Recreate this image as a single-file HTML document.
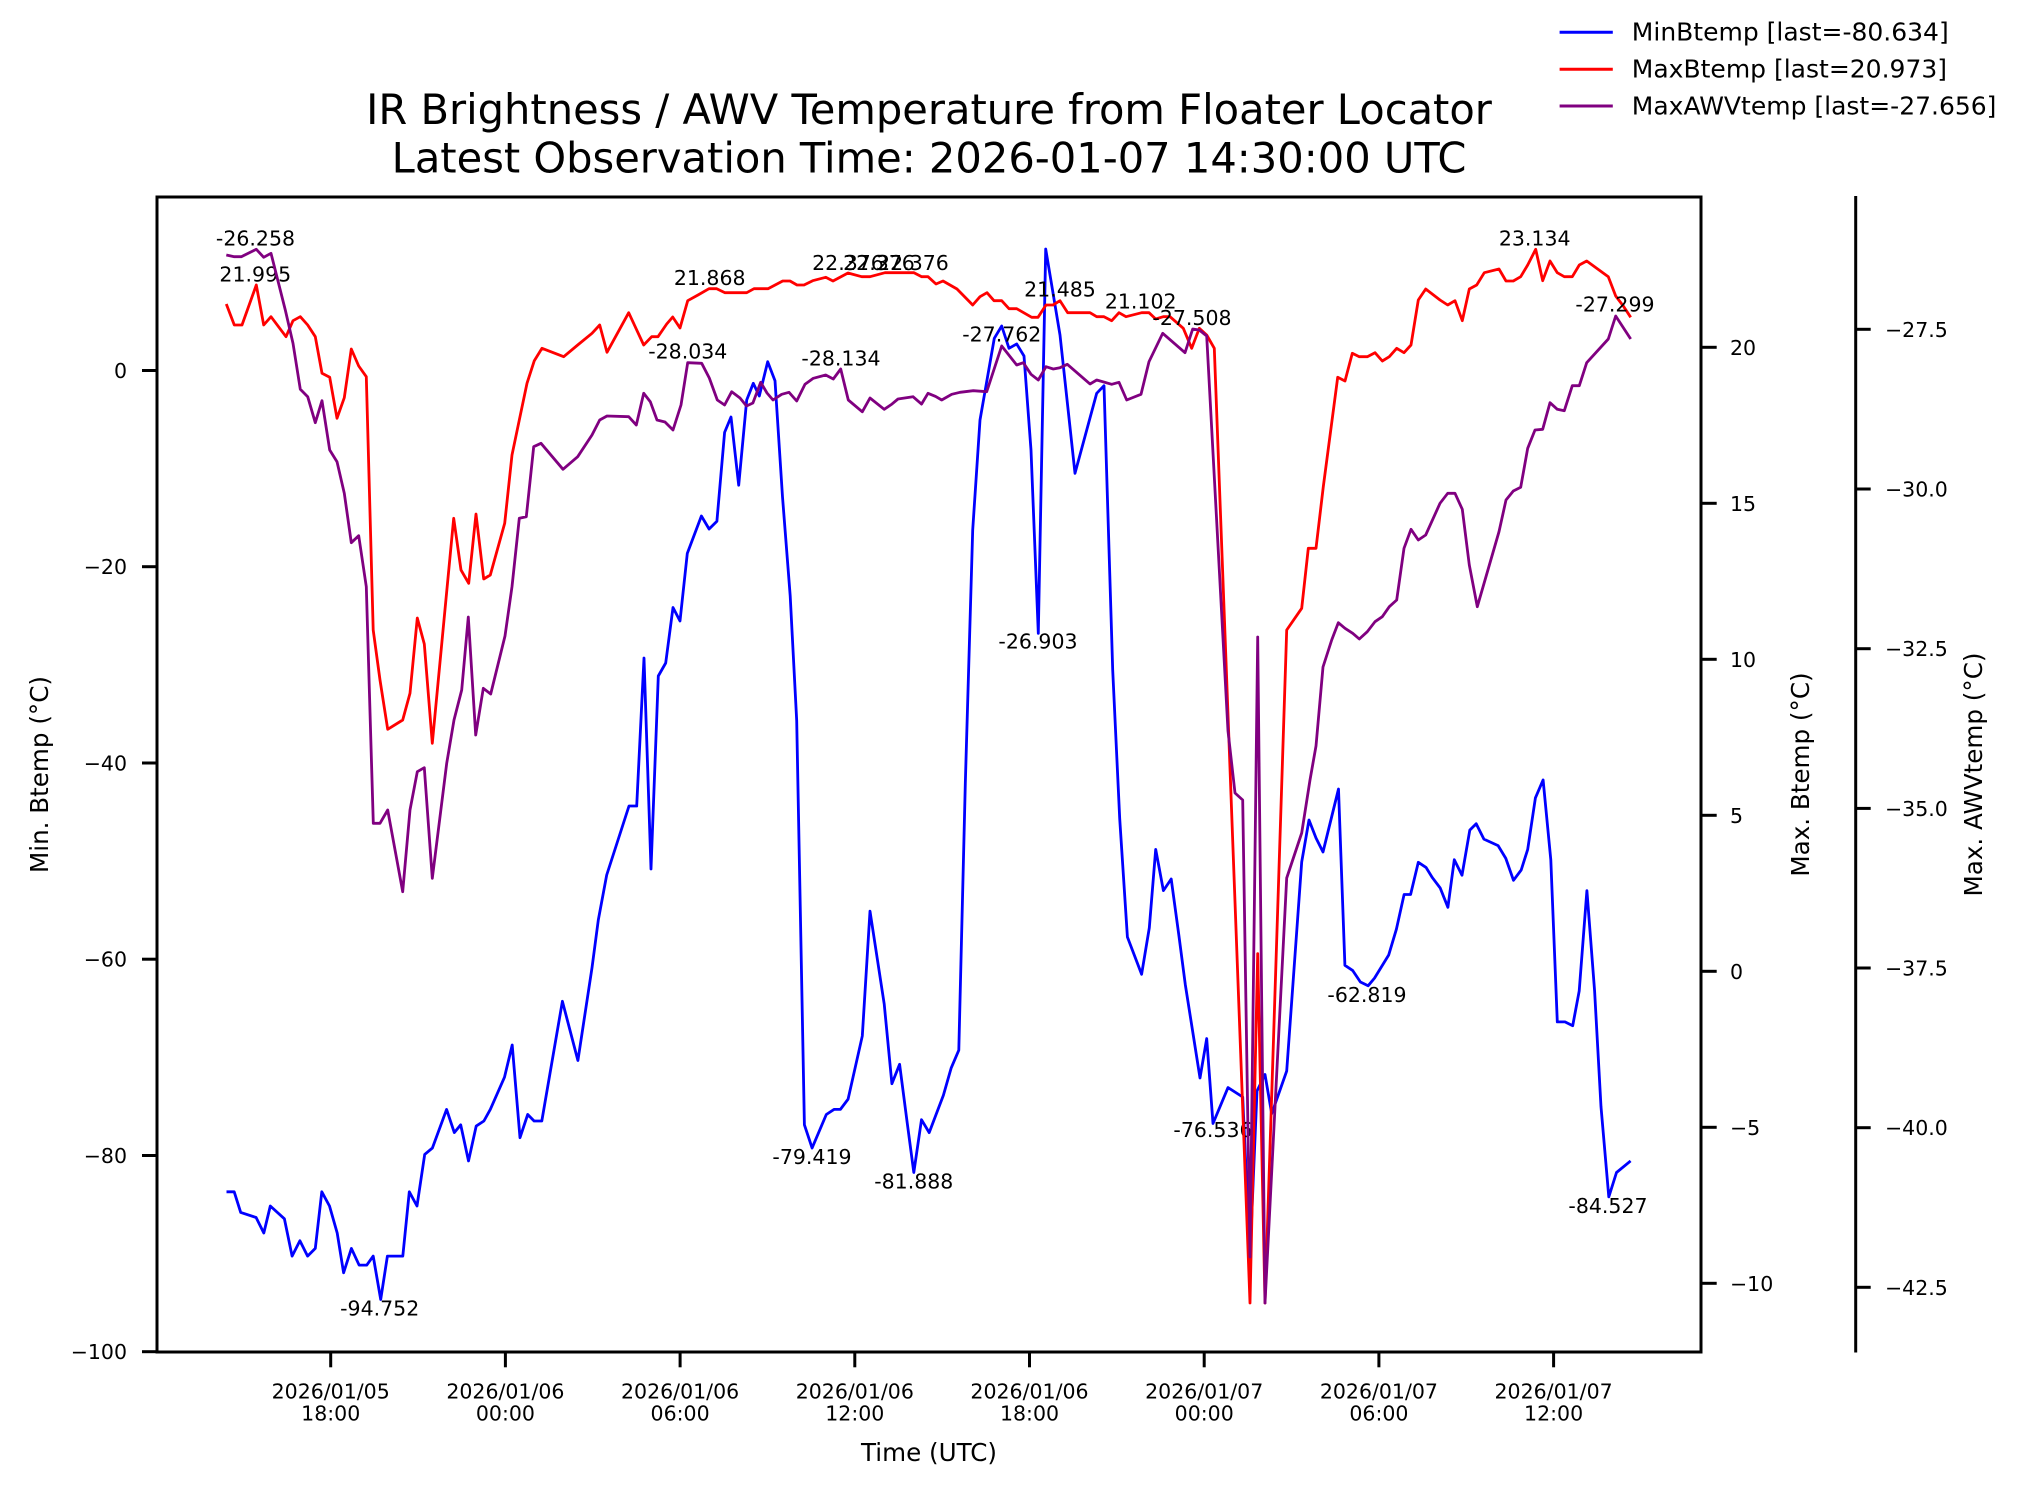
<!DOCTYPE html>
<html><head><meta charset="utf-8"><style>
html,body{margin:0;padding:0;background:#fff;}
svg{display:block;}
text{font-family:"DejaVu Sans","Liberation Sans",sans-serif;fill:#000;}
.t{font-size:20.5px;}
.a{font-size:20.5px;}
.l{font-size:24.6px;}
.g{font-size:25px;}
</style></head><body>
<svg width="2018" height="1495" viewBox="0 0 2018 1495" xmlns="http://www.w3.org/2000/svg">
<rect width="2018" height="1495" fill="#fff"/>
<!-- Title -->
<text x="929" y="124" text-anchor="middle" style="font-size:41.6px">IR Brightness / AWV Temperature from Floater Locator</text>
<text x="929" y="172.3" text-anchor="middle" style="font-size:41.6px">Latest Observation Time: 2026-01-07 14:30:00 UTC</text>

<!-- Data -->
<polyline fill="none" stroke="#0000ff" stroke-width="2.8" stroke-linejoin="round" points="226.5,1191.8 234.2,1191.8 240.7,1212.4 256.1,1217.5 263.8,1233 270.3,1206 284.4,1218.8 292.1,1256.1 299.9,1240.7 307.6,1256.1 315.3,1248.4 321.8,1191.8 329.5,1206 337.2,1233 343.6,1272.8 351.4,1248.4 359.1,1265.1 366.8,1265.1 373.2,1256.1 380.7,1299.5 387.4,1256.1 402.8,1256.1 409.3,1191.8 417,1206 424.7,1154.4 432.4,1148 446.6,1109.4 454.3,1132.6 460.7,1124.8 468.5,1160.9 476.2,1126.1 483.9,1121 490.3,1109.4 504.5,1077.2 512.2,1045 520,1137.7 527.7,1114.5 534.1,1121 541.8,1121 562.4,1001.3 577.9,1060.5 592,967.8 598.3,920 606.7,875 629,806 636.7,806 644,658 651,869 658.3,676 665.7,663 673,607.5 680,621 687.3,553.4 701.4,516 709.1,529 716.9,521.2 724.6,432.4 731,417 738.7,485.2 746.7,400 753.3,383.3 759.3,396 767.7,361.7 775,380.7 782.5,496.8 790.2,595.9 796.7,720.7 804.4,1124.8 812.1,1148 826.3,1114.5 834,1109.4 840.4,1109.4 848.1,1099.1 862.3,1036 870,911.2 884.2,1003.9 891.9,1083.7 899.6,1064.3 907.3,1123.5 913.8,1172.5 921.5,1119.7 929.2,1132.6 935.6,1115.8 943.4,1095.2 951.1,1068.2 958.8,1050.2 965.3,783.8 972.7,530 980,420 994.3,338.3 1001.7,326 1009,348.3 1016.7,344 1024,356 1031,450 1038.3,633.3 1045.7,249 1060,335 1075,473.3 1096.7,393.3 1104,385.7 1112.7,670 1119.7,818.5 1127.4,937 1141.6,974.3 1149.3,927.9 1155.7,849.4 1163.4,890.6 1171.2,879 1178.9,935.6 1185.3,984.6 1193,1033.5 1200,1078 1206.7,1038.6 1213,1123.5 1228,1087.6 1242.7,1097 1250,1257 1257,1091 1265,1074.5 1271.7,1113.7 1286.7,1071 1301.7,862 1309,820 1316,838 1323,852 1338.5,789 1344.9,965.3 1352.6,970.4 1360.4,982 1368.1,985.8 1374.5,978.1 1388.7,955 1396.4,929.2 1404.1,894.5 1410.6,894.5 1418.3,862.3 1426,867.4 1432.4,877.7 1440.2,888 1447.9,907.3 1454.3,859.7 1462,875.2 1469.8,830.1 1476.2,823.7 1483.9,839.1 1498.1,845.6 1505.8,858.4 1513.5,880.3 1521.2,870 1527.7,849.4 1535.4,797.9 1543.1,779.9 1550.8,859.7 1557.3,1021.9 1565,1021.9 1572.7,1025.7 1579.2,991 1586.9,890.6 1594.6,991 1601,1106.8 1608.8,1196.9 1616.5,1172.5 1630.6,1160.9"/>
<g class="a" text-anchor="middle">
<text x="379.7" y="1315.7">-94.752</text>
<text x="812" y="1164">-79.419</text>
<text x="913.8" y="1188.5">-81.888</text>
<text x="1038" y="648.3">-26.903</text>
<text x="1213" y="1137">-76.536</text>
<text x="1367" y="1002">-62.819</text>
<text x="1608" y="1213">-84.527</text>
</g>

<polyline fill="none" stroke="#ff0000" stroke-width="2.8" stroke-linejoin="round" points="226.3,304 234.3,325 242,325 256.3,285 263.7,325 271,316.7 286,336.7 293,320.7 300.3,316.7 307.7,325 315.3,336.7 322,373.3 329.7,377.3 337,418.3 344.3,397.7 351.3,349 358.7,366 366.3,376.7 373.2,630 380,680 387.7,729.3 402.7,720 410,693.3 417.3,618 424.3,644 432.3,743.3 444,620 453.7,518.3 461,570 468.7,583.3 476,514 483.7,579 490.3,575 504.7,523.3 512,455 519.3,420 527,383.3 534.3,360.7 542,348.3 563.7,356.7 577.7,345 592,333.3 599.7,325 607,352.3 628.7,312.7 643.7,345 651.7,336.7 658,336.7 666.7,324 672.7,317 680,328 687.7,300.7 698,295 709,288.7 716.7,288.7 725,292.7 746.7,292.7 754,288.7 768,288.7 782.7,281 790,281 797,285 804,285 812.7,280.7 825.7,277.3 833,281 848,273 861.7,276.7 870,276.7 885,272.7 914,272.7 921.7,276.7 928,276.7 936,284 943,281 957,289 972.7,305 980,296.7 987,292.7 994,300.7 1001.7,300.7 1009,308.7 1016.7,308.7 1031.7,317.3 1038,317.3 1046,305 1053,305 1060,300.7 1067.7,312.7 1090,312.7 1096.7,316.7 1104,316.7 1111.7,320.7 1119,312.7 1126,316.7 1141.7,312.7 1149,312.7 1155.7,319 1163.3,316.7 1170,316.7 1183.3,328.3 1191.7,348.3 1199.3,328.3 1206.7,335 1214.3,348.3 1250,1303 1257.7,953.6 1265,1303 1286.7,630 1301.7,608.3 1308.3,548.3 1316,548.3 1323.3,486.7 1337.7,377.3 1345,381 1352.3,353.3 1359.3,356.7 1367.3,356.7 1375,352.7 1382.3,361 1389.3,356.7 1396.7,348.3 1404,352.7 1411,345 1418.3,300 1425.7,289 1440,300 1447.7,305 1455,300.7 1462.3,320.7 1469.3,289 1476.7,285 1484.3,272.7 1499,269 1506,281 1513.3,281 1520.7,276.7 1527.7,265 1535.7,249.3 1542.7,280.7 1550,261 1557.3,272.7 1564.3,276.7 1572.3,276.7 1579.3,265 1586.7,261 1608.3,276.7 1615.7,296 1623.3,306 1630.7,317.3"/>
<g class="a" text-anchor="middle">
<text x="255.3" y="281.7">21.995</text>
<text x="709.7" y="285">21.868</text>
<text x="848" y="270">22.376</text>
<text x="879" y="270">22.376</text>
<text x="913" y="270">22.376</text>
<text x="1060" y="296.5">21.485</text>
<text x="1140.7" y="308.3">21.102</text>
<text x="1534.7" y="245.7">23.134</text>
</g>

<polyline fill="none" stroke="#800080" stroke-width="2.8" stroke-linejoin="round" points="226.3,255 234.3,256.7 241.3,256.7 256.3,249.3 263.7,257.3 271,253.3 285.3,310 293,343.3 300.3,389.3 307.7,396.7 315.3,422.7 322,400.7 329.7,450 337,461.7 344.3,493.3 351.3,542.7 358.7,535.7 366.3,586.7 373.3,823.3 380,823.3 387.7,810 402.7,891.7 410,810 417.3,771.7 424.3,767.7 432.3,878.3 446.7,763.3 454,720 461.7,690 468.3,617 475.7,735 483.3,688.3 490.7,694 505,636 512,586.7 519.3,518.3 526.3,516.7 533.7,446.7 541,443.3 563,469.3 577.7,456.7 592,435 599.7,420 607,416 628.7,416.7 636.3,425 643.7,393.3 650.3,401.7 657,420 665,422 673,430 681,405 687.7,362.7 701.7,363.3 709.3,378 717.3,400 724.6,405 731.7,391.7 740,398 746.5,406 752.9,403 760.7,382.3 767,393 773,400 781.7,394.3 789,392.3 796.7,401 805,384.3 813.3,378.3 825.7,375 833.3,379 840.7,369 848.3,400 862.3,411.8 870,398 884.2,409.3 891.9,404.1 898,399 913,396.7 921.5,404.1 928,393.3 935.6,396.4 941.7,400 951.7,394.3 960,392.3 973.3,390.7 986.7,391.7 1001.7,346 1016.7,365 1023.3,362.7 1031,374.3 1038.3,380 1046,366.7 1053.3,369 1060,367.7 1067.3,364.3 1090,384 1096.7,380 1111.7,384.3 1119,382.3 1126.7,400 1141,394.3 1149,361.7 1162.7,333.3 1185,352.7 1192.7,329 1199.3,330 1206.7,336 1228,731 1235,793 1242.7,800 1250,1257 1257.7,637 1265,1303 1286.7,878 1301.7,833 1310,780 1316,746 1323,667 1331.7,640 1338.3,622.7 1345,628.3 1352.7,633.3 1359.3,639 1367.3,631.7 1375,621.7 1382.3,616.7 1389.3,606.7 1396.7,600 1404,548.3 1411,529.3 1418.3,540 1425.7,535 1440,503.3 1447.7,493.3 1455,493.3 1462.3,509.3 1469.3,565 1477.3,606.7 1499,531.7 1506,500 1513.3,491 1520.7,487.3 1527.7,448.3 1535,430 1542.7,429.3 1550,402.7 1557.3,409.3 1564.3,410.7 1572.3,385.7 1579.3,385.7 1586.7,362.7 1608.3,339 1615.7,316 1630.7,339"/>
<g class="a" text-anchor="middle">
<text x="255.5" y="245.7">-26.258</text>
<text x="687.8" y="358.3">-28.034</text>
<text x="841" y="365.7">-28.134</text>
<text x="1001.8" y="341.7">-27.762</text>
<text x="1192" y="325">-27.508</text>
<text x="1615" y="311.7">-27.299</text>
</g>

<!-- Axes frame -->
<rect x="157" y="197" width="1544" height="1155" fill="none" stroke="#000" stroke-width="3"/>
<line x1="1855.7" y1="196" x2="1855.7" y2="1352.5" stroke="#000" stroke-width="3"/>

<!-- Left ticks -->
<g stroke="#000" stroke-width="3">
<line x1="142" y1="370.5" x2="157" y2="370.5"/>
<line x1="142" y1="566.7" x2="157" y2="566.7"/>
<line x1="142" y1="763" x2="157" y2="763"/>
<line x1="142" y1="959.2" x2="157" y2="959.2"/>
<line x1="142" y1="1155.5" x2="157" y2="1155.5"/>
<line x1="142" y1="1351.7" x2="157" y2="1351.7"/>
</g>
<g class="t" text-anchor="end">
<text x="127" y="378">0</text>
<text x="127" y="574.2">−20</text>
<text x="127" y="770.5">−40</text>
<text x="127" y="966.7">−60</text>
<text x="127" y="1163">−80</text>
<text x="127" y="1359.2">−100</text>
</g>

<!-- Right ticks (Max Btemp) -->
<g stroke="#000" stroke-width="3">
<line x1="1701" y1="347.3" x2="1716.7" y2="347.3"/>
<line x1="1701" y1="503.3" x2="1716.7" y2="503.3"/>
<line x1="1701" y1="659.3" x2="1716.7" y2="659.3"/>
<line x1="1701" y1="815.3" x2="1716.7" y2="815.3"/>
<line x1="1701" y1="971.3" x2="1716.7" y2="971.3"/>
<line x1="1701" y1="1127.3" x2="1716.7" y2="1127.3"/>
<line x1="1701" y1="1283.3" x2="1716.7" y2="1283.3"/>
</g>
<g class="t">
<text x="1730" y="354.8">20</text>
<text x="1730" y="510.8">15</text>
<text x="1730" y="666.8">10</text>
<text x="1730" y="822.8">5</text>
<text x="1730" y="978.8">0</text>
<text x="1730" y="1134.8">−5</text>
<text x="1730" y="1290.8">−10</text>
</g>

<!-- AWV ticks -->
<g stroke="#000" stroke-width="3">
<line x1="1855.7" y1="329.3" x2="1870.7" y2="329.3"/>
<line x1="1855.7" y1="489" x2="1870.7" y2="489"/>
<line x1="1855.7" y1="648.7" x2="1870.7" y2="648.7"/>
<line x1="1855.7" y1="808.4" x2="1870.7" y2="808.4"/>
<line x1="1855.7" y1="968" x2="1870.7" y2="968"/>
<line x1="1855.7" y1="1127.7" x2="1870.7" y2="1127.7"/>
<line x1="1855.7" y1="1287.3" x2="1870.7" y2="1287.3"/>
</g>
<g class="t">
<text x="1885" y="336.8">−27.5</text>
<text x="1885" y="496.5">−30.0</text>
<text x="1885" y="656.2">−32.5</text>
<text x="1885" y="815.9">−35.0</text>
<text x="1885" y="975.5">−37.5</text>
<text x="1885" y="1135.2">−40.0</text>
<text x="1885" y="1294.8">−42.5</text>
</g>

<!-- X ticks -->
<g stroke="#000" stroke-width="3">
<line x1="330.7" y1="1352" x2="330.7" y2="1367.3"/>
<line x1="505.4" y1="1352" x2="505.4" y2="1367.3"/>
<line x1="680.1" y1="1352" x2="680.1" y2="1367.3"/>
<line x1="854.8" y1="1352" x2="854.8" y2="1367.3"/>
<line x1="1029.5" y1="1352" x2="1029.5" y2="1367.3"/>
<line x1="1204.2" y1="1352" x2="1204.2" y2="1367.3"/>
<line x1="1378.9" y1="1352" x2="1378.9" y2="1367.3"/>
<line x1="1553.6" y1="1352" x2="1553.6" y2="1367.3"/>
</g>
<g class="t" text-anchor="middle">
<text x="330.7" y="1398.3">2026/01/05</text><text x="330.7" y="1420.7">18:00</text>
<text x="505.4" y="1398.3">2026/01/06</text><text x="505.4" y="1420.7">00:00</text>
<text x="680.1" y="1398.3">2026/01/06</text><text x="680.1" y="1420.7">06:00</text>
<text x="854.8" y="1398.3">2026/01/06</text><text x="854.8" y="1420.7">12:00</text>
<text x="1029.5" y="1398.3">2026/01/06</text><text x="1029.5" y="1420.7">18:00</text>
<text x="1204.2" y="1398.3">2026/01/07</text><text x="1204.2" y="1420.7">00:00</text>
<text x="1378.9" y="1398.3">2026/01/07</text><text x="1378.9" y="1420.7">06:00</text>
<text x="1553.6" y="1398.3">2026/01/07</text><text x="1553.6" y="1420.7">12:00</text>
</g>

<!-- Axis labels -->
<text class="l" x="929" y="1461" text-anchor="middle">Time (UTC)</text>
<text class="l" transform="translate(48,774.5) rotate(-90)" text-anchor="middle">Min. Btemp (°C)</text>
<text class="l" transform="translate(1809,774.5) rotate(-90)" text-anchor="middle">Max. Btemp (°C)</text>
<text class="l" transform="translate(1982,774.5) rotate(-90)" text-anchor="middle">Max. AWVtemp (°C)</text>

<!-- Legend -->
<line x1="1559.6" y1="32.3" x2="1612.8" y2="32.3" stroke="#0000ff" stroke-width="3"/>
<line x1="1559.6" y1="69.3" x2="1612.8" y2="69.3" stroke="#ff0000" stroke-width="3"/>
<line x1="1559.6" y1="106" x2="1612.8" y2="106" stroke="#800080" stroke-width="3"/>
<text class="g" x="1631.8" y="40.7">MinBtemp [last=-80.634]</text>
<text class="g" x="1631.8" y="77.7">MaxBtemp [last=20.973]</text>
<text class="g" x="1631.8" y="114.3">MaxAWVtemp [last=-27.656]</text>
</svg>
</body></html>
